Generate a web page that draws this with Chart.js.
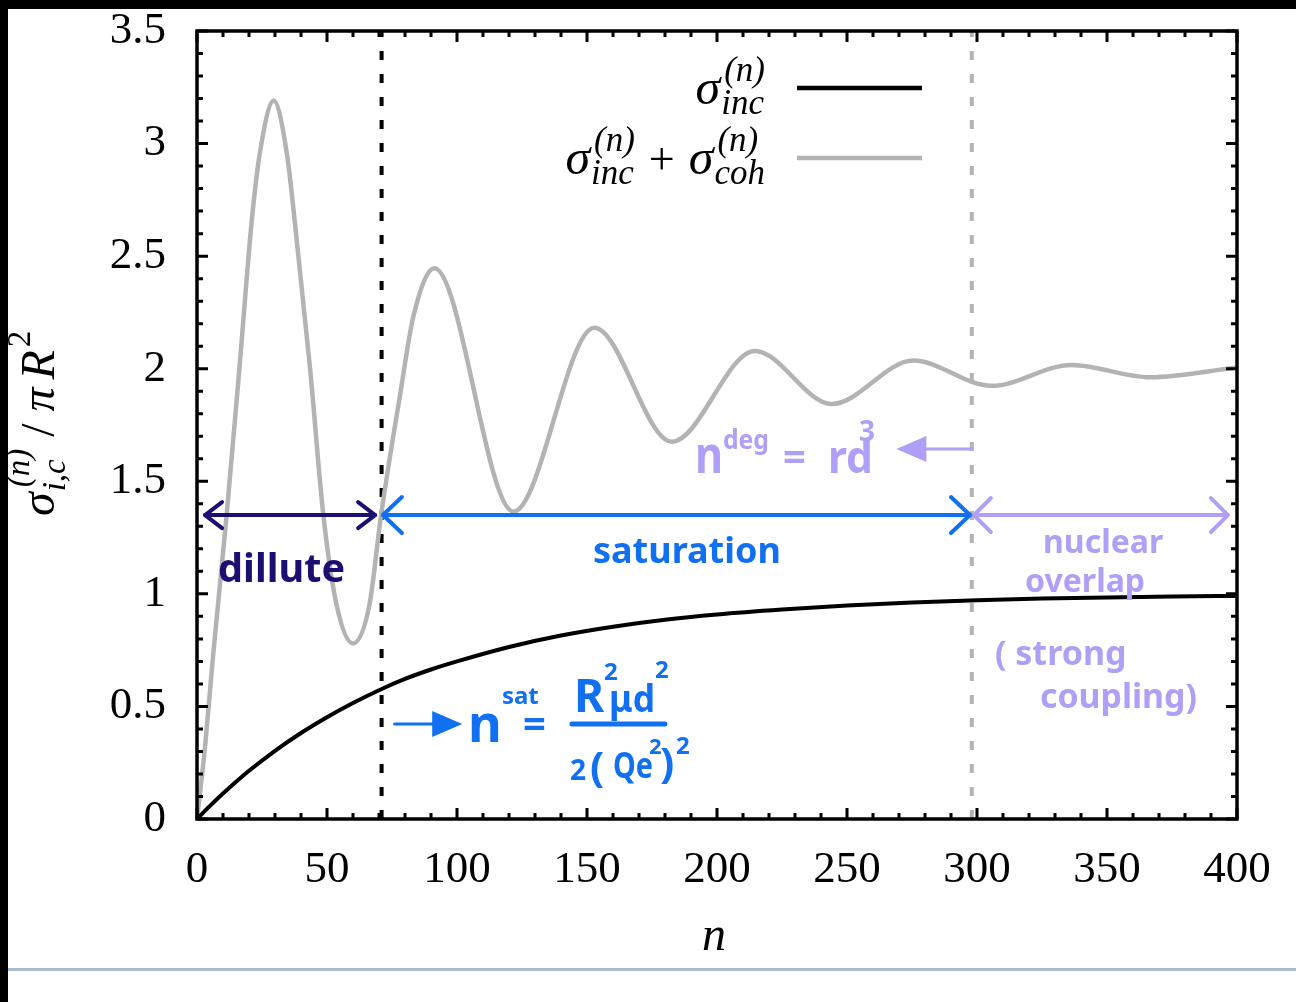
<!DOCTYPE html>
<html>
<head>
<meta charset="utf-8">
<script src="https://cdn.jsdelivr.net/npm/chart.js@4.4.0/dist/chart.umd.min.js"></script>
<style>
  html, body { margin: 0; padding: 0; background: #fff; }
  #wrap { width: 1296px; height: 1002px; position: relative; }
</style>
</head>
<body>
<div id="wrap"><canvas id="myChart" width="1296" height="1002"></canvas></div>
<script>
// incoherent part  sigma_inc / pi R^2
var incN   = [0, 5, 10, 20, 30, 40, 50, 60, 70, 80, 90, 100, 120, 140, 160, 180, 200, 225, 250, 275, 300, 325, 350, 375, 400];
var incVal = [0, 0.058, 0.113, 0.214, 0.303, 0.382, 0.452, 0.515, 0.572, 0.622, 0.664, 0.70, 0.764, 0.815, 0.854, 0.885, 0.908, 0.930, 0.948, 0.962, 0.972, 0.979, 0.984, 0.988, 0.991];

// incoherent + coherent (rise of first peak, then turning points)
var totN   = [0, 3, 6.3, 11.4, 16.3, 21, 24.2, 29.5, 34.5, 39, 43.5, 48.6, 53.7, 60, 66.3, 70.8, 78, 83.2, 91.3,
              121.7, 152.8, 182.6, 214.6, 244.1, 275.5, 305.6, 336.4, 366.5, 400];
var totVal = [0, 0.31, 0.74, 1.35, 2.0, 2.65, 2.96, 3.19, 2.96, 2.5, 2.0, 1.35, 0.95, 0.78, 0.95, 1.35, 1.876, 2.231, 2.446,
              1.365, 2.182, 1.676, 2.079, 1.843, 2.036, 1.924, 2.017, 1.962, 2.005];

// regime boundaries (n_sat, n_deg)
var satN = 71;
var degN = 298;

var xTickStep = 50, xMinorStep = 10;
var yTickStep = 0.5, yMinorStep = 0.1;

var MATH = '"Liberation Serif", "DejaVu Serif", serif';
var HAND = '"Noto Sans", "DejaVu Sans", sans-serif';
var NAVY = '#1b1072', BLUE = '#1170f2', LAV = '#b09ff6';

function pts(xs, ys) {
  return xs.map(function(x, i) { return {x: x, y: ys[i]}; });
}

// draw a row of text parts, with stacked sub/superscripts
function rich(ctx, parts, x, y, measureOnly) {
  var cx = x;
  parts.forEach(function(p) {
    ctx.font = p.font;
    if (p.sub !== undefined || p.sup !== undefined) {
      var w1 = p.sub ? ctx.measureText(p.sub).width : 0;
      var w2 = p.sup ? ctx.measureText(p.sup).width + (p.supdx || 0) : 0;
      if (!measureOnly) {
        if (p.sub) ctx.fillText(p.sub, cx, y + p.subdy);
        if (p.sup) ctx.fillText(p.sup, cx + (p.supdx || 0), y + p.supdy);
      }
      cx += Math.max(w1, w2) + (p.after || 0);
    } else {
      if (!measureOnly) ctx.fillText(p.t, cx, y + (p.dy || 0));
      cx += ctx.measureText(p.t).width + (p.after || 0);
    }
  });
  return cx - x;
}

function chevArrow(ctx, x1, x2, y, head, spread, color, lw) {
  ctx.strokeStyle = color; ctx.lineWidth = lw; ctx.lineCap = 'round'; ctx.lineJoin = 'round';
  ctx.beginPath(); ctx.moveTo(x1, y); ctx.lineTo(x2, y); ctx.stroke();
  ctx.beginPath();
  ctx.moveTo(x1 + head, y - spread); ctx.lineTo(x1, y); ctx.lineTo(x1 + head, y + spread);
  ctx.moveTo(x2 - head, y - spread); ctx.lineTo(x2, y); ctx.lineTo(x2 - head, y + spread);
  ctx.stroke();
}

function solidArrow(ctx, xFrom, xTip, y, color) {
  var dir = xTip > xFrom ? 1 : -1;
  ctx.strokeStyle = color; ctx.fillStyle = color; ctx.lineWidth = 3;
  ctx.beginPath(); ctx.moveTo(xFrom, y); ctx.lineTo(xTip - dir * 20, y); ctx.stroke();
  ctx.beginPath();
  ctx.moveTo(xTip, y); ctx.lineTo(xTip - dir * 30, y - 13); ctx.lineTo(xTip - dir * 30, y + 13);
  ctx.closePath(); ctx.fill();
}

var decor = {
  id: 'decor',
  beforeDraw: function(chart) {
    var ctx = chart.ctx;
    ctx.save();
    ctx.fillStyle = '#fff'; ctx.fillRect(0, 0, 1296, 1002);
    ctx.fillStyle = '#000'; ctx.fillRect(0, 0, 1296, 9); ctx.fillRect(0, 0, 8, 1002);
    ctx.fillStyle = '#a9bbd2'; ctx.fillRect(8, 968, 1288, 3);
    ctx.restore();
  },
  afterDraw: function(chart) {
    var ctx = chart.ctx, a = chart.chartArea;
    var xs = chart.scales.x, ys = chart.scales.y;
    ctx.save();
    // frame
    ctx.strokeStyle = '#000'; ctx.lineWidth = 3.5;
    ctx.strokeRect(a.left, a.top, a.right - a.left, a.bottom - a.top);
    // inward ticks on all sides
    ctx.lineWidth = 3;
    var i, v, p, len;
    for (i = 0; i <= 40; i++) {
      v = i * xMinorStep; p = xs.getPixelForValue(v);
      len = (i % 5 === 0) ? 11 : 6;
      ctx.beginPath();
      ctx.moveTo(p, a.bottom); ctx.lineTo(p, a.bottom - len);
      ctx.moveTo(p, a.top); ctx.lineTo(p, a.top + len);
      ctx.stroke();
    }
    for (i = 0; i <= 35; i++) {
      v = i * yMinorStep; p = ys.getPixelForValue(v);
      len = (i % 5 === 0) ? 11 : 6;
      ctx.beginPath();
      ctx.moveTo(a.left, p); ctx.lineTo(a.left + len, p);
      ctx.moveTo(a.right, p); ctx.lineTo(a.right - len, p);
      ctx.stroke();
    }

    // legend
    ctx.fillStyle = '#000'; ctx.textBaseline = 'alphabetic';
    var sig = {t: 'σ', font: 'italic 50px ' + MATH, after: 1};
    var ss = 'italic 35px ' + MATH;
    var leg1 = [sig, {sub: 'inc', sup: '(n)', font: ss, subdy: 10, supdy: -23, supdx: 3}];
    var leg2 = [sig, {sub: 'inc', sup: '(n)', font: ss, subdy: 10, supdy: -23, supdx: 3, after: 14},
                {t: '+', font: '46px ' + MATH, after: 14},
                sig, {sub: 'coh', sup: '(n)', font: ss, subdy: 10, supdy: -23, supdx: 3}];
    var w1 = rich(ctx, leg1, 0, 0, true), w2 = rich(ctx, leg2, 0, 0, true);
    rich(ctx, leg1, 765 - w1, 104);
    rich(ctx, leg2, 765 - w2, 174);
    ctx.lineCap = 'butt'; ctx.lineWidth = 4.5;
    ctx.strokeStyle = '#000'; ctx.beginPath(); ctx.moveTo(797, 88); ctx.lineTo(922, 88); ctx.stroke();
    ctx.strokeStyle = '#b3b3b3'; ctx.beginPath(); ctx.moveTo(797, 158); ctx.lineTo(922, 158); ctx.stroke();

    // axis titles
    ctx.fillStyle = '#000';
    ctx.font = 'italic 48px ' + MATH; ctx.textAlign = 'center';
    ctx.fillText('n', (a.left + a.right) / 2 - 3, 950);
    ctx.textAlign = 'left';
    ctx.save();
    ctx.translate(54, 516); ctx.rotate(-Math.PI / 2);
    rich(ctx, [
      {t: 'σ', font: 'italic 48px ' + MATH, after: 1},
      {sub: 'i,c', sup: '(n)', font: 'italic 33px ' + MATH, subdy: 11, supdy: -25, supdx: 4, after: 12},
      {t: '/', font: '48px ' + MATH, after: 12},
      {t: 'π', font: 'italic 48px ' + MATH, after: 8},
      {t: 'R', font: 'italic 48px ' + MATH, after: 3},
      {sup: '2', font: '33px ' + MATH, supdy: -24}
    ], 0, 0);
    ctx.restore();

    // regime arrows
    var yArr = ys.getPixelForValue(1.35);
    chevArrow(ctx, xs.getPixelForValue(3.1), xs.getPixelForValue(68.5), yArr, 17, 13, NAVY, 4);
    chevArrow(ctx, xs.getPixelForValue(71.5), xs.getPixelForValue(297.3), yArr, 19, 18, BLUE, 4);
    chevArrow(ctx, xs.getPixelForValue(298.8), xs.getPixelForValue(396.5), yArr, 17, 17, LAV, 4);
    solidArrow(ctx, xs.getPixelForValue(298), xs.getPixelForValue(269), ys.getPixelForValue(1.643), LAV);
    solidArrow(ctx, xs.getPixelForValue(76), xs.getPixelForValue(102), ys.getPixelForValue(0.422), BLUE);

    // handwritten labels
    function hand(txt, n, v, size, maxW, color) {
      ctx.fillStyle = color; ctx.font = 'bold ' + size + 'px ' + HAND;
      ctx.fillText(txt, xs.getPixelForValue(n), ys.getPixelForValue(v), maxW);
    }
    hand('dillute', 8.1, 1.053, 40, 127, NAVY);
    hand('saturation', 152.3, 1.137, 36, 205, BLUE);
    hand('nuclear', 325.4, 1.181, 32, 122, LAV);
    hand('overlap', 318.5, 1.008, 32, 132, LAV);
    hand('( strong', 306.9, 0.684, 34, 150, LAV);
    hand('coupling)', 324.2, 0.493, 34, 157, LAV);

    // n^deg = r_d^3
    var bx = xs.getPixelForValue(191.5), by = ys.getPixelForValue(1.537);
    ctx.fillStyle = LAV;
    ctx.font = 'bold 50px ' + HAND; ctx.fillText('n', bx, by, 28);
    ctx.font = 'bold 26px ' + HAND; ctx.fillText('deg', bx + 28, by - 24, 46);
    ctx.font = 'bold 40px ' + HAND; ctx.fillText('=', bx + 88, by - 2);
    ctx.font = 'bold 44px ' + HAND; ctx.fillText('rd', bx + 133, by, 45);
    ctx.font = 'bold 28px ' + HAND; ctx.fillText('3', bx + 164, by - 32);

    // n^sat = R^2 mu_d^2 / 2 (Q e^2)^2
    bx = xs.getPixelForValue(104.2); by = ys.getPixelForValue(0.342);
    ctx.fillStyle = BLUE;
    ctx.font = 'bold 52px ' + HAND; ctx.fillText('n', bx, by, 40);
    ctx.font = 'bold 24px ' + HAND; ctx.fillText('sat', bx + 34, by - 38);
    ctx.font = 'bold 40px ' + HAND; ctx.fillText('=', bx + 55, by - 4);
    ctx.font = 'bold 46px ' + HAND; ctx.fillText('R', bx + 106, by - 30);
    ctx.font = 'bold 24px ' + HAND; ctx.fillText('2', bx + 136, by - 62);
    ctx.font = 'bold 38px ' + HAND; ctx.fillText('μd', bx + 141, by - 30, 46);
    ctx.font = 'bold 24px ' + HAND; ctx.fillText('2', bx + 187, by - 64);
    ctx.strokeStyle = BLUE; ctx.lineWidth = 5; ctx.lineCap = 'round';
    ctx.beginPath(); ctx.moveTo(bx + 104, by - 18); ctx.lineTo(bx + 197, by - 18); ctx.stroke();
    ctx.font = 'bold 28px ' + HAND; ctx.fillText('2', bx + 102, by + 38);
    ctx.font = 'bold 42px ' + HAND; ctx.fillText('(', bx + 122, by + 40);
    ctx.font = 'bold 36px ' + HAND; ctx.fillText('Qe', bx + 145, by + 36, 40);
    ctx.font = 'bold 22px ' + HAND; ctx.fillText('2', bx + 181, by + 12);
    ctx.font = 'bold 42px ' + HAND; ctx.fillText(')', bx + 192, by + 36);
    ctx.font = 'bold 24px ' + HAND; ctx.fillText('2', bx + 208, by + 12);

    ctx.restore();
  }
};

var ctx = document.getElementById('myChart').getContext('2d');
var chart = new Chart(ctx, {
  type: 'scatter',
  data: {
    datasets: [
      {
        label: 'σ_inc',
        data: pts(incN, incVal),
        showLine: true, borderColor: '#000', borderWidth: 4,
        pointRadius: 0, cubicInterpolationMode: 'monotone'
      },
      {
        label: 'σ_inc + σ_coh',
        data: pts(totN, totVal),
        showLine: true, borderColor: '#b3b3b3', borderWidth: 4.5,
        pointRadius: 0, cubicInterpolationMode: 'monotone'
      },
      {
        label: 'n_sat',
        data: [{x: satN, y: 0}, {x: satN, y: 3.5}],
        showLine: true, borderColor: '#000', borderWidth: 4, borderDash: [9, 14],
        pointRadius: 0
      },
      {
        label: 'n_deg',
        data: [{x: degN, y: 0}, {x: degN, y: 3.5}],
        showLine: true, borderColor: '#b3b3b3', borderWidth: 4, borderDash: [9, 14],
        pointRadius: 0
      }
    ]
  },
  options: {
    responsive: false,
    animation: false,
    devicePixelRatio: 1,
    layout: { padding: { top: 31, right: 59, left: 0, bottom: 0 } },
    plugins: { legend: { display: false }, tooltip: { enabled: false } },
    scales: {
      x: {
        type: 'linear', min: 0, max: 400,
        grid: { display: false }, border: { display: false },
        ticks: {
          stepSize: xTickStep, autoSkip: false, maxRotation: 0,
          color: '#000', padding: 16,
          font: { family: MATH, size: 45 }
        },
        afterFit: function(scale) {
          scale.height = 183;
          scale.paddingLeft = 0; scale.paddingRight = 0;
        }
      },
      y: {
        type: 'linear', min: 0, max: 3.5,
        grid: { display: false }, border: { display: false },
        ticks: {
          stepSize: yTickStep, autoSkip: false,
          color: '#000', padding: 23,
          font: { family: MATH, size: 45 },
          callback: function(v) { return String(Math.round(v * 10) / 10); }
        },
        afterFit: function(scale) {
          scale.width = 197;
          scale.paddingTop = 0; scale.paddingBottom = 0;
        }
      }
    }
  },
  plugins: [decor]
});
</script>
</body>
</html>
